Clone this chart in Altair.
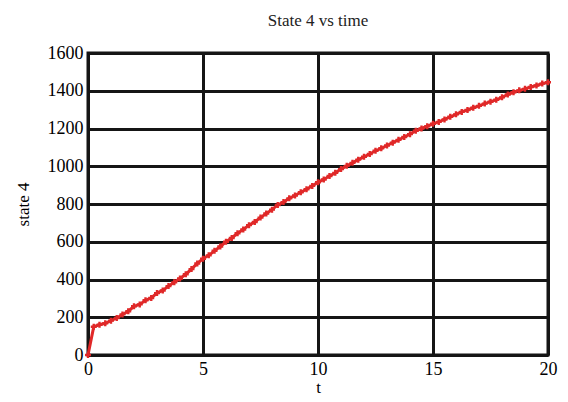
import altair as alt
import pandas as pd

t_values = [0, 0.25, 0.5, 0.75, 1.0, 1.25, 1.5, 1.75, 2.0, 2.25, 2.5, 2.75, 3.0, 3.25, 3.5, 3.75,
            4.0, 4.25, 4.5, 4.75, 5.0, 5.25, 5.5, 5.75, 6.0, 6.25, 6.5, 6.75, 7.0, 7.25, 7.5, 7.75,
            8.0, 8.25, 8.5, 8.75, 9.0, 9.25, 9.5, 9.75, 10.0, 10.25, 10.5, 10.75, 11.0, 11.25, 11.5, 11.75,
            12.0, 12.25, 12.5, 12.75, 13.0, 13.25, 13.5, 13.75, 14.0, 14.25, 14.5, 14.75, 15.0, 15.25, 15.5, 15.75,
            16.0, 16.25, 16.5, 16.75, 17.0, 17.25, 17.5, 17.75, 18.0, 18.25, 18.5, 18.75, 19.0, 19.25, 19.5, 19.75, 20.0]
state4 = [0, 150, 160, 168, 182, 196, 215, 232, 258, 268, 290, 302, 328, 342, 365, 385,
          405, 428, 455, 485, 510, 528, 552, 575, 600, 620, 645, 665, 688, 705, 728, 750,
          770, 795, 810, 830, 845, 862, 878, 896, 915, 930, 948, 965, 985, 1002, 1018, 1035,
          1050, 1065, 1082, 1095, 1110, 1125, 1140, 1155, 1170, 1188, 1200, 1212, 1225, 1235, 1248, 1262,
          1275, 1288, 1298, 1310, 1320, 1332, 1342, 1352, 1365, 1380, 1392, 1402, 1410, 1420, 1428, 1438, 1445]
x_ticks = [0, 5, 10, 15, 20]
y_ticks = [0, 200, 400, 600, 800, 1000, 1200, 1400, 1600]

df = pd.DataFrame({"t": t_values, "state4": state4})

FONT = "Liberation Serif"

chart = alt.Chart(df).mark_line(
    color="#e02828", strokeWidth=3, clip=False,
    point=alt.OverlayMarkDef(shape="cross", size=36, color="#e02828", filled=True),
).encode(
    x=alt.X("t:Q", scale=alt.Scale(domain=[0, 20], nice=False),
            axis=alt.Axis(title="t", values=x_ticks, format="d",
                          labelOverlap=False, labelFlush=False,
                          titleFont=FONT, titleFontSize=17, titleFontWeight="normal",
                          titleColor="black", titlePadding=1)),
    y=alt.Y("state4:Q", scale=alt.Scale(domain=[0, 1600], nice=False),
            axis=alt.Axis(title="state 4", values=y_ticks, format="d",
                          labelOverlap=False, labelFlush=False,
                          titleFont=FONT, titleFontSize=17, titleFontWeight="normal",
                          titleColor="black", titlePadding=15)),
).properties(
    width=460, height=302,
    title=alt.TitleParams("State 4 vs time", font=FONT, fontSize=17, fontWeight="normal",
                          color="#222222", offset=14),
    autosize=alt.AutoSizeParams(type="none"),
    padding={"left": 80, "top": 45, "right": 12, "bottom": 41},
).configure_axis(
    labelFont=FONT, labelFontSize=18, labelColor="black",
    grid=True, gridColor="#151515", gridWidth=3,
    domain=False, ticks=False, labelPadding=5,
).configure_view(
    stroke="#151515", strokeWidth=3,
)

chart.save("out.html", embed_options={"renderer": "svg", "actions": False})
